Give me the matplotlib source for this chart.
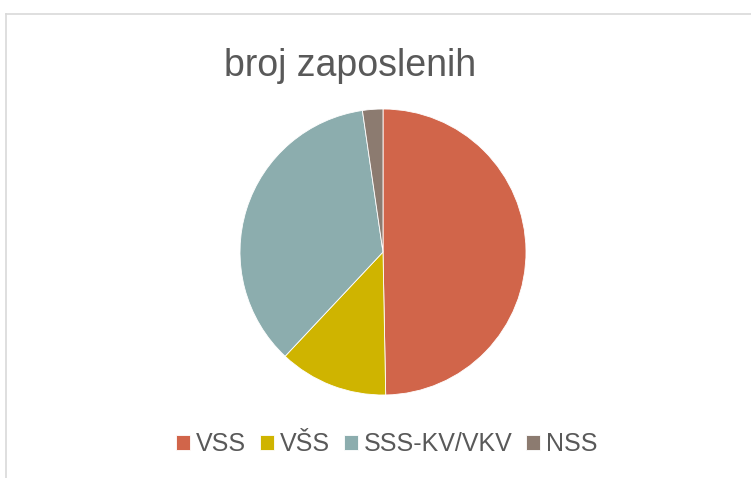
import matplotlib
matplotlib.use('Agg')
import matplotlib.pyplot as plt
from matplotlib.lines import Line2D

# Data (shares, %)
labels = ['VSS', 'VŠS', 'SSS-KV/VKV', 'NSS']
values = [49.7, 12.3, 35.7, 2.3]
colors = ['#D1654A', '#CFB400', '#8CADAE', '#8C7B70']

plt.rcParams['font.family'] = ['Liberation Sans', 'DejaVu Sans']

W, H = 751, 478
fig = plt.figure(figsize=(W / 100, H / 100), dpi=100)

# chart area frame (cropped at right and bottom)
fx, fy = 6.5 / W, 1 - 13.5 / H
fig.add_artist(Line2D([fx, fx], [0, fy], color='#D9D9D9', lw=1.2))
fig.add_artist(Line2D([fx, 1], [fy, fy], color='#D9D9D9', lw=1.2))

# pie axes: center (383, 252), radius 143 px
cx, cy, r = 383, 252, 143
ax = fig.add_axes([(cx - r) / W, (H - cy - r) / H, 2 * r / W, 2 * r / H])
wedges, _ = ax.pie(values, colors=colors, startangle=90, counterclock=False,
                   wedgeprops=dict(edgecolor='white', linewidth=0.6))
ax.set_xlim(-1, 1)
ax.set_ylim(-1, 1)
ax.set_aspect('equal')
ax.axis('off')

# title
fig.text(350 / W, 1 - 66 / H, 'broj zaposlenih', ha='center', va='center',
         fontsize=27, color='#595959')

# legend
fig.legend(wedges, labels, ncol=4, loc='center',
           bbox_to_anchor=(387 / W, 1 - 444 / H), frameon=False,
           handlelength=0.55, handleheight=0.55, handletextpad=0.25,
           columnspacing=0.55, fontsize=18, labelcolor='#595959')

fig.savefig('out.png', dpi=100)
